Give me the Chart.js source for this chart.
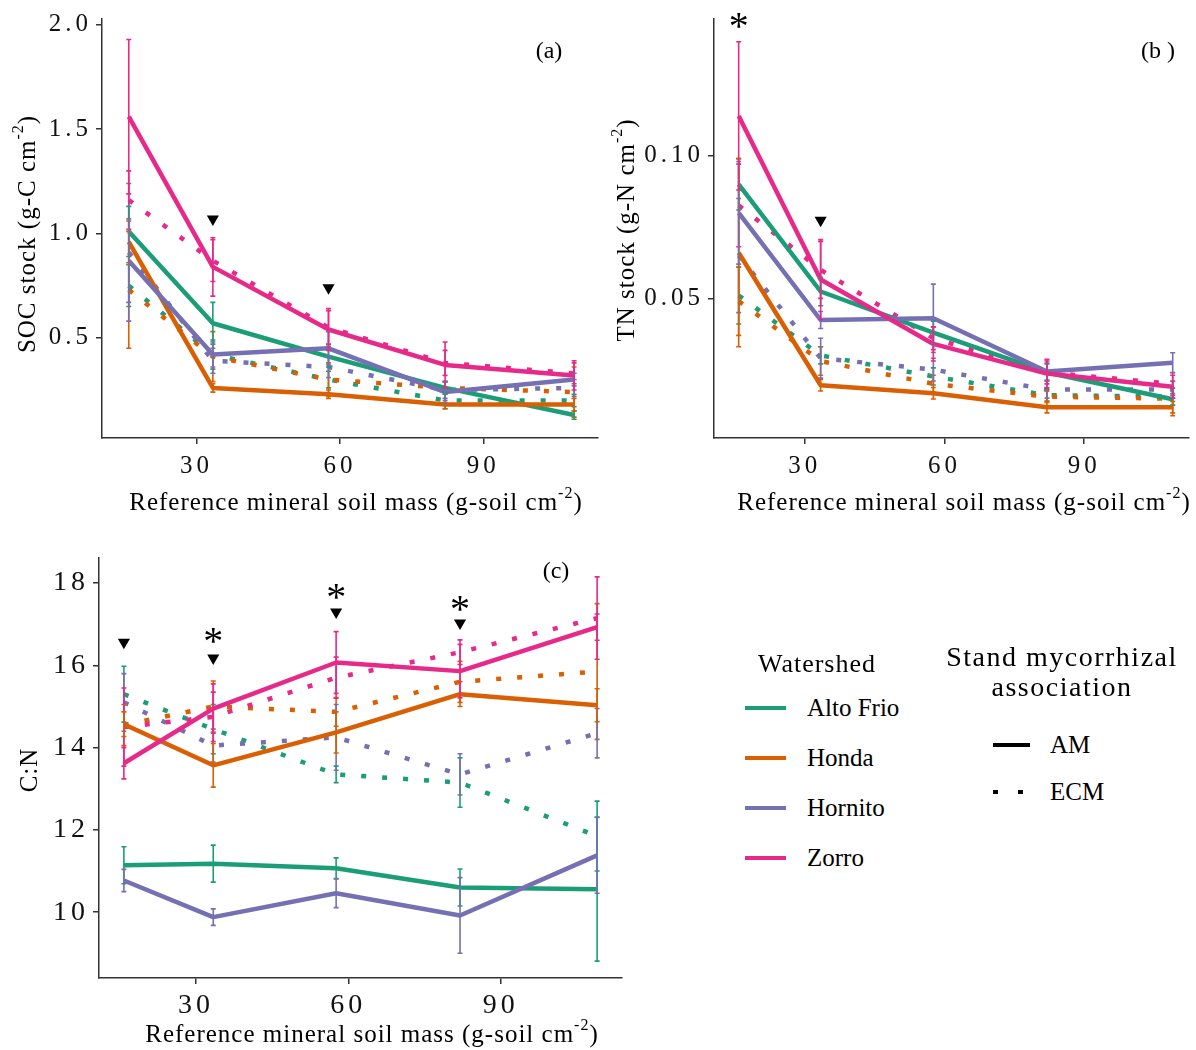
<!DOCTYPE html>
<html>
<head>
<meta charset="utf-8">
<script src="https://cdn.jsdelivr.net/npm/chart.js@4.4.1/dist/chart.umd.min.js"></script>
<style>
  body { margin: 0; background: #fff; width: 1196px; height: 1050px; position: relative; overflow: hidden;
         font-family: 'Liberation Serif', serif; color: #000; }
  canvas { position: absolute; }
  .lg { position: absolute; white-space: nowrap; height: 30px; line-height: 30px; }
</style>
</head>
<body>
<canvas id="ca" width="605" height="520" style="left:0;top:0"></canvas>
<canvas id="cb" width="596" height="520" style="left:600px;top:0"></canvas>
<canvas id="cc" width="630" height="530" style="left:0;top:520px"></canvas>
<div id="legend"></div>
<script>
// sampling depths (reference mineral soil mass, g-soil cm-2)
const massX = [15.8, 33.4, 57.6, 82, 109];
const xTicks = [30, 60, 90];
const watersheds = ['Alto Frio', 'Honda', 'Hornito', 'Zorro'];
const palette = ['#1B9E77', '#D95F02', '#7570B3', '#E7298A'];

// (a) SOC stock, rows = watersheds
const socAM   = [[1.01, 0.57, 0.41, 0.26, 0.13], [0.96, 0.26, 0.23, 0.18, 0.18], [0.87, 0.42, 0.45, 0.24, 0.30], [1.56, 0.84, 0.54, 0.37, 0.32]];
const socAMse = [[0.12, 0.10, 0.05, 0.03, 0.02], [0.10, 0.02, 0.02, 0.02, 0.03], [0.20, 0.06, 0.08, 0.05, 0.03], [0.37, 0.14, 0.10, 0.11, 0.07]];
const socECM   = [[0.75, 0.42, 0.30, 0.20, 0.20], [0.73, 0.41, 0.30, 0.26, 0.24], [0.91, 0.39, 0.36, 0.25, 0.26], [1.16, 0.87, 0.55, 0.38, 0.33]];
const socECMse = [[0.10, 0.07, 0.04, 0.04, 0.03], [0.28, 0.12, 0.08, 0.03, 0.12], [0.33, 0.06, 0.05, 0.04, 0.04], [0.14, 0.10, 0.08, 0.06, 0.05]];
const socTicks = [0.5, 1.0, 1.5, 2.0];
const socTri = [[33.4, 1.07], [57.6, 0.74]];
const socStar = [];

// (b) TN stock
const tnAM   = [[0.090, 0.0524, 0.038, 0.024, 0.0146], [0.066, 0.0195, 0.0167, 0.0118, 0.0118], [0.080, 0.0424, 0.043, 0.0243, 0.0274], [0.114, 0.0566, 0.034, 0.0236, 0.019]];
const tnAMse = [[0.009, 0.005, 0.004, 0.003, 0.002], [0.033, 0.002, 0.002, 0.002, 0.002], [0.018, 0.003, 0.012, 0.003, 0.0035], [0.026, 0.014, 0.006, 0.005, 0.004]];
const tnECM   = [[0.051, 0.030, 0.0226, 0.016, 0.0155], [0.049, 0.028, 0.020, 0.0155, 0.0148], [0.065, 0.029, 0.025, 0.018, 0.018], [0.0826, 0.060, 0.036, 0.024, 0.020]];
const tnECMse = [[0.010, 0.003, 0.003, 0.002, 0.003], [0.012, 0.005, 0.003, 0.002, 0.006], [0.020, 0.007, 0.004, 0.003, 0.003], [0.0145, 0.010, 0.004, 0.004, 0.004]];
const tnTicks = [0.05, 0.10];
const tnTri = [[33.4, 0.0774]];
const tnStar = [[15.8, 0.1475]];

// (c) C:N
const cnAM   = [[11.14, 11.18, 11.07, 10.6, 10.56], [14.57, 13.57, 14.37, 15.3, 15.03], [10.77, 9.88, 10.46, 9.92, 11.38], [13.62, 14.95, 16.07, 15.86, 16.93]];
const cnAMse = [[0.45, 0.45, 0.25, 0.45, 1.75], [0.30, 0.53, 0.50, 0.30, 0.40], [0.27, 0.20, 0.35, 0.92, 0.92], [0.38, 0.60, 0.75, 0.65, 0.32]];
const cnECM   = [[15.3, 14.45, 13.35, 13.15, 11.85], [14.55, 15.0, 14.87, 15.6, 15.85], [15.1, 14.05, 14.25, 13.35, 14.35], [14.5, 14.75, 15.7, 16.32, 17.15]];
const cnECMse = [[0.68, 0.60, 0.20, 0.60, 0.85], [0.50, 0.62, 0.35, 0.50, 1.65], [0.70, 0.40, 0.80, 0.50, 0.60], [0.95, 0.60, 0.50, 0.30, 1.00]];
const cnTicks = [10, 12, 14, 16, 18];
const cnTri = [[15.8, 16.56], [33.4, 16.18], [57.6, 17.3], [82, 17.03]];
const cnStar = [[33.4, 16.72], [57.6, 17.8], [82, 17.5]];

const FONT = '"Liberation Serif"';

function lineSets(am, amSe, ecm, ecmSe) {
  const sets = [];
  [[ecm, ecmSe, true], [am, amSe, false]].forEach(([vals, se, dotted]) => {
    vals.forEach((row, w) => {
      sets.push({
        label: watersheds[w] + (dotted ? ' ECM' : ' AM'),
        data: massX.map((x, i) => ({ x: x, y: row[i] })),
        err: se[w],
        borderColor: palette[w],
        backgroundColor: palette[w],
        borderWidth: 4.5,
        borderDash: dotted ? [5, 16] : [],
        borderCapStyle: 'butt',
        borderJoinStyle: 'round',
        pointRadius: 0,
        tension: 0
      });
    });
  });
  return sets; // paint order, reversed later
}

function drawRich(ctx, parts, cx, cy, size, rotate, spacing) {
  ctx.save();
  ctx.letterSpacing = (spacing || 0) + 'px';
  ctx.translate(cx, cy);
  if (rotate) ctx.rotate(-Math.PI / 2);
  ctx.textBaseline = 'middle';
  ctx.textAlign = 'left';
  ctx.fillStyle = '#000';
  const big = size + 'px ' + FONT, small = Math.round(size * 0.62) + 'px ' + FONT;
  let w = 0;
  parts.forEach(p => { ctx.font = p.sup ? small : big; w += ctx.measureText(p.t).width; });
  let x = -w / 2;
  parts.forEach(p => {
    ctx.font = p.sup ? small : big;
    ctx.fillText(p.t, x, p.sup ? -size * 0.36 : 0);
    x += ctx.measureText(p.t).width;
  });
  ctx.restore();
}

const extras = {
  id: 'extras',
  beforeDraw(chart, args, o) {
    chart.ctx.letterSpacing = o.tickSpacing + 'px';
  },
  afterDatasetsDraw(chart) {
    const ctx = chart.ctx, xs = chart.scales.x, ys = chart.scales.y;
    const sets = chart.data.datasets.slice().reverse();
    sets.forEach(ds => {
      if (!ds.err) return;
      ctx.save();
      ctx.strokeStyle = ds.borderColor;
      ctx.lineWidth = 1.6;
      ctx.setLineDash([]);
      ds.data.forEach((p, i) => {
        const px = xs.getPixelForValue(p.x);
        const top = ys.getPixelForValue(p.y + ds.err[i]);
        const bot = ys.getPixelForValue(p.y - ds.err[i]);
        ctx.beginPath();
        ctx.moveTo(px, top); ctx.lineTo(px, bot);
        ctx.moveTo(px - 2.5, top); ctx.lineTo(px + 2.5, top);
        ctx.moveTo(px - 2.5, bot); ctx.lineTo(px + 2.5, bot);
        ctx.stroke();
      });
      ctx.restore();
    });
  },
  afterDraw(chart, args, o) {
    const ctx = chart.ctx, xs = chart.scales.x, ys = chart.scales.y;
    drawRich(ctx, o.xTitle, o.xTitlePos[0], o.xTitlePos[1], 25, false, 1);
    drawRich(ctx, o.yTitle, o.yTitlePos[0], o.yTitlePos[1], 25, true, 1);
    drawRich(ctx, [{ t: o.label }], o.labelPos[0], o.labelPos[1], 24, false, 0);
    ctx.save();
    ctx.letterSpacing = '0px';
    ctx.font = '40px ' + FONT;
    ctx.fillStyle = '#000';
    ctx.textAlign = 'center';
    ctx.textBaseline = 'alphabetic';
    const m = ctx.measureText('*');
    const off = (m.actualBoundingBoxAscent - m.actualBoundingBoxDescent) / 2;
    o.stars.forEach(s => ctx.fillText('*', xs.getPixelForValue(s[0]), ys.getPixelForValue(s[1]) + off));
    ctx.restore();
  }
};

function makePanel(id, p) {
  const sets = lineSets(p.am, p.amSe, p.ecm, p.ecmSe).reverse();
  sets.unshift({
    type: 'scatter',
    data: p.tri.map(t => ({ x: t[0], y: t[1] })),
    pointStyle: 'triangle',
    rotation: 180,
    pointRadius: 7,
    pointHoverRadius: 7,
    backgroundColor: '#000',
    borderColor: '#000',
    borderWidth: 0,
    showLine: false
  });
  const axisCommon = {
    type: 'linear',
    grid: { display: true, drawOnChartArea: false, drawTicks: true, tickLength: 6, color: '#333', lineWidth: 1.5 },
    border: { display: true, color: '#333', width: 1.5 }
  };
  new Chart(document.getElementById(id), {
    type: 'line',
    data: { datasets: sets },
    options: {
      responsive: false,
      animation: false,
      devicePixelRatio: 1,
      events: [],
      layout: { padding: { top: p.padTop, right: p.padRight, left: 0, bottom: 0 } },
      scales: {
        x: Object.assign({}, axisCommon, {
          min: p.xMin, max: p.xMax,
          afterBuildTicks: s => { s.ticks = xTicks.map(v => ({ value: v })); },
          afterFit: s => { s.height = p.xHeight; },
          ticks: { font: { family: 'Liberation Serif', size: p.tickSize }, color: '#111', padding: p.xPad, maxRotation: 0, autoSkip: false }
        }),
        y: Object.assign({}, axisCommon, {
          min: p.yMin, max: p.yMax,
          afterBuildTicks: s => { s.ticks = p.yTicks.map(v => ({ value: v })); },
          afterFit: s => { s.width = p.yWidth; },
          ticks: { font: { family: 'Liberation Serif', size: p.tickSize }, color: '#111', padding: p.yPad,
                   callback: v => v.toFixed(p.dec) }
        })
      },
      plugins: {
        legend: { display: false },
        tooltip: { enabled: false },
        extras: {
          tickSpacing: p.tickSpacing,
          xTitle: [{ t: 'Reference mineral soil mass (g-soil cm' }, { t: '-2', sup: true }, { t: ')' }],
          xTitlePos: p.xTitlePos,
          yTitle: p.yTitle,
          yTitlePos: p.yTitlePos,
          label: p.label,
          labelPos: p.labelPos,
          stars: p.stars
        }
      }
    },
    plugins: [extras]
  });
}

makePanel('ca', {
  am: socAM, amSe: socAMse, ecm: socECM, ecmSe: socECMse, tri: socTri, stars: socStar,
  xMin: 10.2, xMax: 114, yMin: 0.02, yMax: 2.028, yTicks: socTicks, dec: 1,
  padTop: 15, padRight: 5, xHeight: 82, yWidth: 102, tickSize: 25, tickSpacing: 4, xPad: 7, yPad: 4,
  xTitlePos: [356, 503], yTitlePos: [28, 234],
  yTitle: [{ t: 'SOC stock (g-C cm' }, { t: '-2', sup: true }, { t: ')' }],
  label: '(a)', labelPos: [549, 52]
});
makePanel('cb', {
  am: tnAM, amSe: tnAMse, ecm: tnECM, ecmSe: tnECMse, tri: tnTri, stars: tnStar,
  xMin: 10.5, xMax: 112.5, yMin: 0.001, yMax: 0.148, yTicks: tnTicks, dec: 2,
  padTop: 15, padRight: 6, xHeight: 82, yWidth: 114, tickSize: 25, tickSpacing: 4, xPad: 7, yPad: 4,
  xTitlePos: [364, 503], yTitlePos: [27, 230],
  yTitle: [{ t: 'TN stock (g-N cm' }, { t: '-2', sup: true }, { t: ')' }],
  label: '(b )', labelPos: [558, 52]
});
makePanel('cc', {
  am: cnAM, amSe: cnAMse, ecm: cnECM, ecmSe: cnECMse, tri: cnTri, stars: cnStar,
  xMin: 10.9, xMax: 113.9, yMin: 8.4, yMax: 18.61, yTicks: cnTicks, dec: 0,
  padTop: 38, padRight: 8, xHeight: 72, yWidth: 99, tickSize: 28, tickSpacing: 4, xPad: 5, yPad: 4,
  xTitlePos: [372, 515], yTitlePos: [30, 250],
  yTitle: [{ t: 'C:N' }],
  label: '(c)', labelPos: [556, 52]
});

// legend
const lg = document.getElementById('legend');
function addText(txt, left, cy, size, center, spacing) {
  const d = document.createElement('div');
  d.className = 'lg';
  d.textContent = txt;
  d.style.fontSize = size + 'px';
  d.style.letterSpacing = (spacing || 0) + 'px';
  d.style.top = (cy - 15) + 'px';
  if (center) { d.style.left = (left - 200) + 'px'; d.style.width = '400px'; d.style.textAlign = 'center'; }
  else d.style.left = left + 'px';
  lg.appendChild(d);
}
function addBar(left, cy, w, color) {
  const d = document.createElement('div');
  d.style.cssText = 'position:absolute;left:' + left + 'px;top:' + (cy - 2.25) + 'px;width:' + w + 'px;height:4.5px;background:' + color;
  lg.appendChild(d);
}
addText('Watershed', 817, 664, 26, true, 1);
watersheds.forEach((w, i) => {
  const cy = 708 + i * 50;
  addBar(745, cy, 41, palette[i]);
  addText(w, 807, cy, 25, false);
});
addText('Stand mycorrhizal', 1062, 657, 28, true, 1.5);
addText('association', 1062, 687, 28, true, 1.5);
addBar(993, 745, 37, '#000');
addText('AM', 1050, 745, 25, false);
addBar(993, 792, 5, '#000');
addBar(1018, 792, 5, '#000');
addText('ECM', 1050, 792, 25, false);
</script>
</body>
</html>
